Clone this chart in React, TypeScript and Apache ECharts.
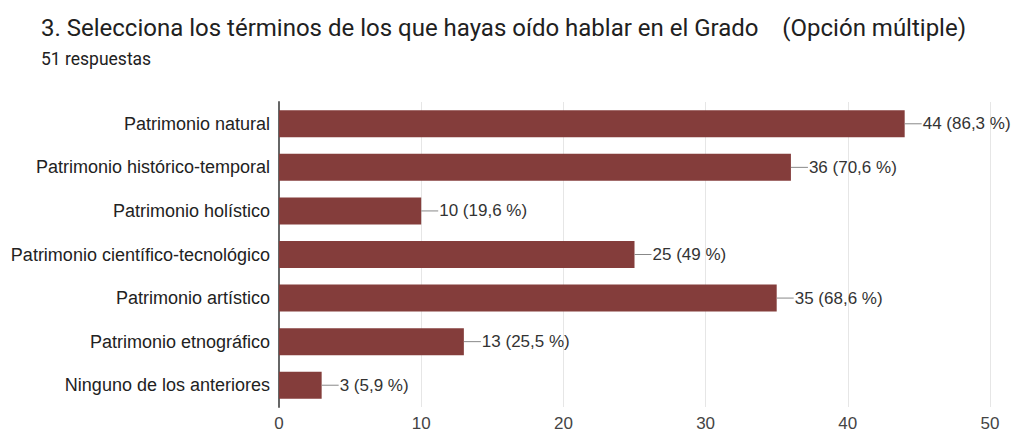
import React, { useEffect, useRef } from "react";
import * as echarts from "echarts";

const categories = [
  "Patrimonio natural",
  "Patrimonio histórico-temporal",
  "Patrimonio holístico",
  "Patrimonio científico-tecnológico",
  "Patrimonio artístico",
  "Patrimonio etnográfico",
  "Ninguno de los anteriores",
];
const counts = [44, 36, 10, 25, 35, 13, 3];
const percents = ["86,3", "70,6", "19,6", "49", "68,6", "25,5", "5,9"];
const xTicks = [0, 10, 20, 30, 40, 50];

const TFONT = "Roboto, 'Noto Sans', Arial, sans-serif";
const FONT = "'Liberation Sans', Arial, sans-serif";

export default function App() {
  const ref = useRef<HTMLDivElement>(null);
  useEffect(() => {
    if (!ref.current) return;
    const chart = echarts.init(ref.current, null, { renderer: "svg" });
    chart.setOption({
      animation: false,
      backgroundColor: "#ffffff",
      textStyle: { fontFamily: FONT },
      title: {
        left: 36,
        top: 11,
        text: "3. Selecciona los términos de los que hayas oído hablar en el Grado    (Opción múltiple)",
        subtext: "51 respuestas",
        itemGap: 10,
        textStyle: { fontFamily: TFONT, fontSize: 24, fontWeight: "normal", color: "#212121" },
        subtextStyle: { fontFamily: TFONT, fontSize: 17.5, color: "#212121" },
      },
      grid: { left: 279, right: 27, top: 102, bottom: 28, containLabel: false },
      xAxis: {
        type: "value",
        min: xTicks[0],
        max: xTicks[xTicks.length - 1],
        interval: 10,
        axisLine: { show: false },
        axisTick: { show: false },
        splitLine: { show: true, lineStyle: { color: "#e6e6e6", width: 1 } },
        axisLabel: { fontFamily: FONT, fontSize: 17, color: "#444", margin: 8 },
      },
      yAxis: {
        type: "category",
        inverse: true,
        data: categories,
        axisLine: { show: true, lineStyle: { color: "#666", width: 2 } },
        axisTick: { show: false },
        axisLabel: { fontFamily: FONT, fontSize: 18, color: "#222", margin: 9 },
      },
      series: [
        {
          type: "bar",
          data: counts,
          barWidth: "62%",
          itemStyle: { color: "#843d3b" },
          label: {
            show: true,
            position: "right",
            distance: 0,
            formatter: (p: any) => `{ln|}{t|${counts[p.dataIndex]} (${percents[p.dataIndex]} %)}`,
            rich: {
              ln: { width: 17, height: 1, backgroundColor: "#888" },
              t: { fontFamily: FONT, fontSize: 17, color: "#333", padding: [0, 0, 0, 1] },
            },
          },
        },
      ],
    });
    return () => chart.dispose();
  }, []);
  return (
    <div
      ref={ref}
      style={{ position: "fixed", left: 0, top: 0, width: 1017, height: 435 }}
    />
  );
}
